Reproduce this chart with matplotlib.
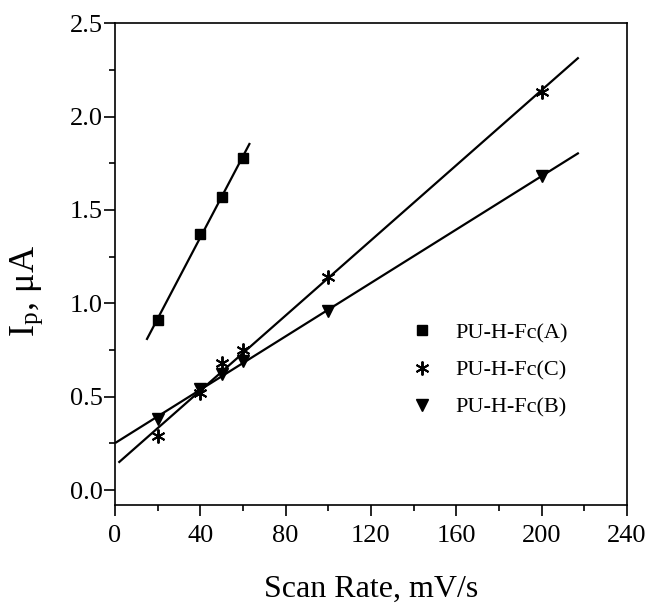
import numpy as np
import matplotlib.pyplot as plt
from matplotlib.ticker import MultipleLocator

plt.rcParams['font.family'] = ['Liberation Serif', 'DejaVu Serif']
plt.rcParams['mathtext.fontset'] = 'stix'

# data
scan_a = [20, 40, 50, 60]
ip_a = [0.91, 1.37, 1.57, 1.78]
scan_c = [20, 40, 50, 60, 100, 200]
ip_c = [0.29, 0.52, 0.68, 0.75, 1.14, 2.13]
scan_b = [20, 40, 50, 60, 100, 200]
ip_b = [0.38, 0.54, 0.62, 0.69, 0.96, 1.68]
yticks = [0.0, 0.5, 1.0, 1.5, 2.0, 2.5]
ytick_labels = ['0.0', '0.5', '1.0', '1.5', '2.0', '2.5']


def fitline(x, y, x0, x1):
    k, b = np.polyfit(x, y, 1)
    xx = np.array([x0, x1])
    return xx, k*xx + b


fig = plt.figure(figsize=(6.48, 6.10), dpi=100)
ax = fig.add_axes([0.1775, 0.172, 0.790, 0.790])

xx, yy = fitline(scan_a, ip_a, 15, 63)
ax.plot(xx, yy, 'k-', lw=1.6)
xx, yy = fitline(scan_c, ip_c, 2, 217)
ax.plot(xx, yy, 'k-', lw=1.6)
xx, yy = fitline(scan_b, ip_b, 0.5, 217)
ax.plot(xx, yy, 'k-', lw=1.6)

ax.plot(scan_a, ip_a, 's', color='k', ms=7.5, ls='none', label='PU-H-Fc(A)')
ax.plot(scan_c, ip_c, marker=(6, 2, 0), color='k', ms=10, mew=1.4, ls='none', label='PU-H-Fc(C)')
ax.plot(scan_b, ip_b, 'v', color='k', ms=9, ls='none', label='PU-H-Fc(B)')

ax.set_xlim(0, 240)
ax.set_ylim(-0.08, 2.5)
ax.xaxis.set_major_locator(MultipleLocator(40))
ax.xaxis.set_minor_locator(MultipleLocator(20))
ax.yaxis.set_minor_locator(MultipleLocator(0.25))
ax.set_yticks(yticks)
ax.set_yticklabels(ytick_labels)
ax.tick_params(which='major', direction='out', length=8, width=1.2, labelsize=19)
ax.tick_params(axis='y', which='major', pad=1)
ax.tick_params(axis='x', which='major', pad=6)
ax.tick_params(which='minor', direction='out', length=4, width=1.2)
for s in ax.spines.values():
    s.set_linewidth(1.2)

ax.set_xlabel('Scan Rate, mV/s', fontsize=23)
ax.xaxis.set_label_coords(0.5, -0.145)
ax.set_ylabel(r'I$_\mathregular{p}$, μA', fontsize=26)
ax.yaxis.set_label_coords(-0.135, 0.445)

ax.legend(loc='upper left', bbox_to_anchor=(0.535, 0.42), frameon=False,
          fontsize=16, handletextpad=0.9, labelspacing=0.75, handlelength=1.2)

fig.savefig('out.png', dpi=100)
